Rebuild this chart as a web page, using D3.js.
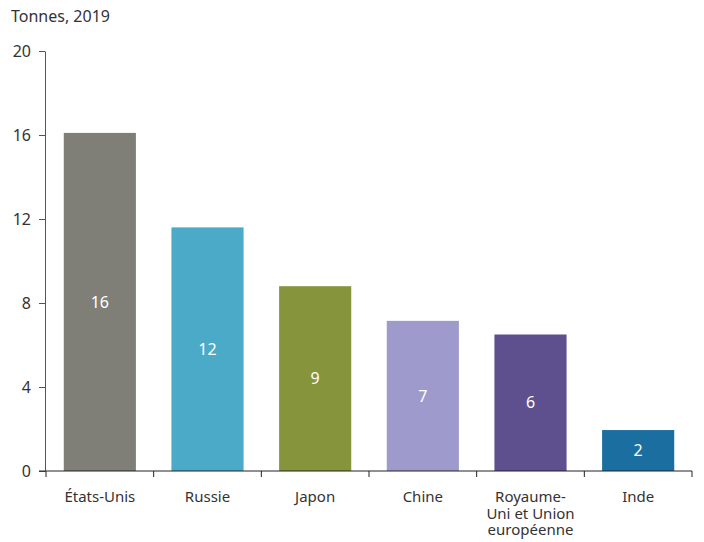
<!DOCTYPE html>
<html>
<head>
<meta charset="utf-8">
<script src="https://cdn.jsdelivr.net/npm/d3@7"></script>
<style>
  body { margin: 0; background: #fff; }
  text { font-family: "Noto Sans", sans-serif; }
</style>
</head>
<body>
<svg id="chart"></svg>
<script>
const CHART_WIDTH = 704;
const CHART_HEIGHT = 542;
const MARGIN = { left: 46, top: 51, right: 12, bottom: 72 };

const CATEGORIES = ["États-Unis", "Russie", "Japon", "Chine", "Royaume-Uni et Union européenne", "Inde"];
const LABEL_LINES = [["États-Unis"], ["Russie"], ["Japon"], ["Chine"], ["Royaume-", "Uni et Union", "européenne"], ["Inde"]];
const VALUES = [16.1, 11.6, 8.8, 7.15, 6.5, 1.95];
const VALUE_LABELS = ["16", "12", "9", "7", "6", "2"];
const COLORS = ["#7f7f78", "#4aaac8", "#86953c", "#9e9acb", "#5e4f8f", "#1a6fa0"];
const Y_TICKS = [0, 4, 8, 12, 16, 20];

const svg = d3.select("#chart")
    .attr("width", CHART_WIDTH)
    .attr("height", CHART_HEIGHT);

const x = d3.scaleBand()
    .domain(CATEGORIES)
    .range([MARGIN.left, CHART_WIDTH - MARGIN.right]);

const y = d3.scaleLinear()
    .domain([0, 20])
    .range([CHART_HEIGHT - MARGIN.bottom + 1, MARGIN.top]);

svg.append("text")
    .attr("x", 11)
    .attr("y", 22)
    .attr("font-size", 16)
    .attr("fill", "#333")
    .text("Tonnes, 2019");

// bars
const barW = x.bandwidth() * 0.67;
svg.selectAll(".bar")
    .data(CATEGORIES)
    .join("rect")
    .attr("class", "bar")
    .attr("x", (d) => x(d) + (x.bandwidth() - barW) / 2)
    .attr("width", barW)
    .attr("y", (d, i) => y(VALUES[i]))
    .attr("height", (d, i) => y(0) - y(VALUES[i]))
    .attr("fill", (d, i) => COLORS[i]);

svg.selectAll(".val")
    .data(CATEGORIES)
    .join("text")
    .attr("class", "val")
    .attr("x", (d) => x(d) + x.bandwidth() / 2)
    .attr("y", (d, i) => (y(VALUES[i]) + y(0)) / 2)
    .attr("dy", "0.35em")
    .attr("text-anchor", "middle")
    .attr("font-size", 16)
    .attr("fill", "#fff")
    .text((d, i) => VALUE_LABELS[i]);

// y axis
const yAxis = svg.append("g")
    .attr("transform", `translate(${MARGIN.left - 1},0)`)
    .call(d3.axisLeft(y).tickValues(Y_TICKS).tickSize(6).tickPadding(8).tickSizeOuter(0));
yAxis.select(".domain").attr("stroke", "#555");
yAxis.selectAll(".tick line").attr("stroke", "#555");
yAxis.selectAll(".tick text")
    .attr("font-size", 16)
    .attr("fill", "#333")
    .style("font-family", "Noto Sans, sans-serif");

// x axis: line with ticks at band boundaries
const xg = svg.append("g");
xg.append("line")
    .attr("x1", MARGIN.left - 7)
    .attr("x2", x.range()[1])
    .attr("y1", y(0))
    .attr("y2", y(0))
    .attr("stroke", "#222");
const bounds = CATEGORIES.map((d) => x(d)).concat([x.range()[1]]);
xg.selectAll(".xt")
    .data(bounds)
    .join("line")
    .attr("x1", (d) => d)
    .attr("x2", (d) => d)
    .attr("y1", y(0))
    .attr("y2", y(0) + 6)
    .attr("stroke", "#222");

const lbl = xg.selectAll(".xl")
    .data(CATEGORIES)
    .join("text")
    .attr("class", "xl")
    .attr("text-anchor", "middle")
    .attr("font-size", 15)
    .attr("fill", "#333")
    .attr("x", (d) => x(d) + x.bandwidth() / 2)
    .attr("y", y(0) + 31);
lbl.each(function (d, i) {
    d3.select(this).selectAll("tspan")
        .data(LABEL_LINES[i])
        .join("tspan")
        .attr("x", x(d) + x.bandwidth() / 2)
        .attr("dy", (t, j) => (j === 0 ? 0 : 16.5))
        .text((t) => t);
});
</script>
</body>
</html>
